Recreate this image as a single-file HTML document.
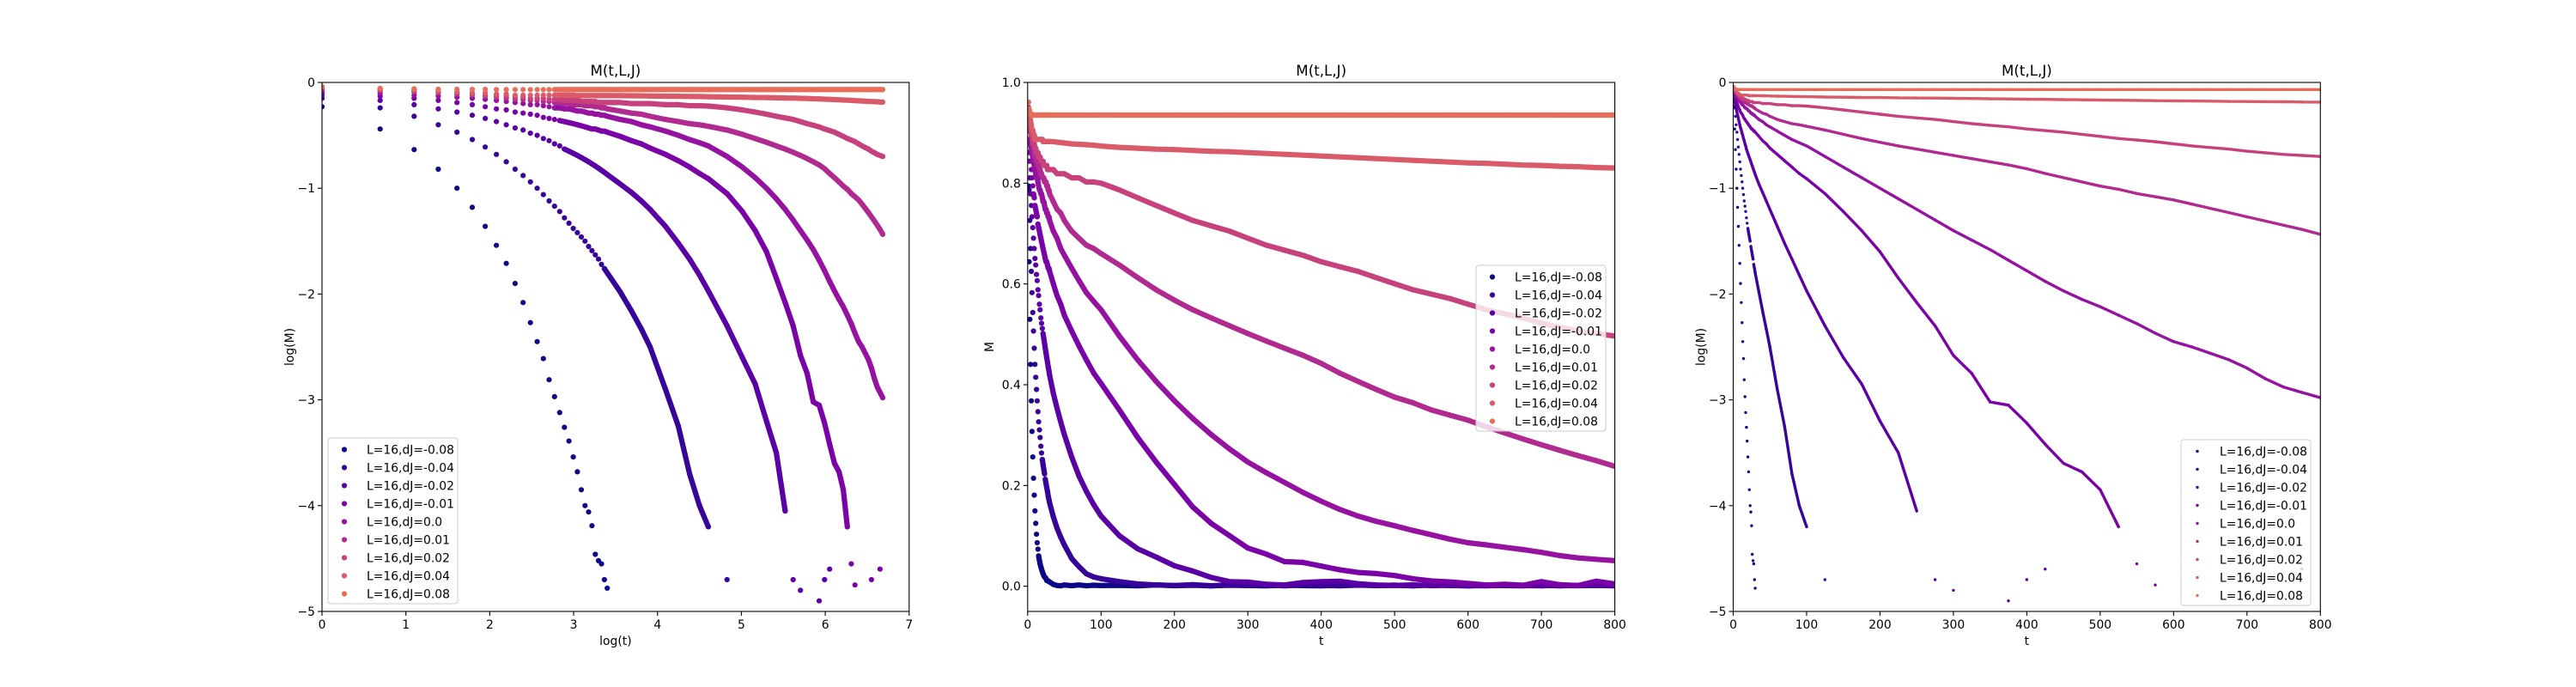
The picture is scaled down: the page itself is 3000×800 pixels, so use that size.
<!DOCTYPE html>
<html><head><meta charset="utf-8">
<style>
html,body{margin:0;padding:0;background:#fff;width:3000px;height:800px;overflow:hidden;}
svg{display:block;font-family:"DejaVu Sans","Liberation Sans",sans-serif;}
</style></head>
<body>
<svg id="fig" width="3000" height="800" viewBox="0 0 3000 800" xmlns="http://www.w3.org/2000/svg">
<rect x="0" y="0" width="3000" height="800" fill="#fff"/>
</svg>
<script>
// ---- data ----
const times = [1,2,3,4,5,6,7,8,9,10,11,12,13,14,15,16,17,18,19,20,21,22,23,24,25,26,27,28,29,30,
  35,40,45,50,60,70,80,90,100,
  125,150,175,200,225,250,275,300,325,350,375,400,425,450,475,500,525,550,575,600,625,650,675,700,725,750,775,800];
const seriesLabels = ["L=16,dJ=-0.08","L=16,dJ=-0.04","L=16,dJ=-0.02","L=16,dJ=-0.01","L=16,dJ=0.0","L=16,dJ=0.01","L=16,dJ=0.02","L=16,dJ=0.04","L=16,dJ=0.08"];
const logM_m008 = [-0.23,-0.44,-0.635,-0.82,-1.0,-1.18,-1.36,-1.54,-1.71,-1.9,-2.08,-2.27,-2.45,-2.61,-2.81,-2.97,-3.12,-3.26,-3.39,-3.54,-3.68,-3.85,-4.0,-4.06,-4.19,-4.46,-4.52,-4.55,-4.7,-4.78,
  -5.6,-6.5,-7,-6,-6.8,-6,-7,-6.2,-6.6,
  -6.3,-7,-5.9,-6.8,-6.2,-7.2,-6,-6.5,-6.9,-6.1,-6.6,-7,-6.3,-5.8,-6.7,-6.2,-7.1,-6,-6.4,-6.9,-6.2,-6.6,-7,-6.1,-6.5,-6.8,-6.3,-6.9];
const logM_m004 = [-0.15,-0.24,-0.32,-0.4,-0.47,-0.54,-0.61,-0.68,-0.75,-0.82,-0.88,-0.94,-1.0,-1.06,-1.12,-1.17,-1.22,-1.28,-1.33,-1.38,-1.42,-1.46,-1.5,-1.55,-1.59,-1.63,-1.67,-1.72,-1.76,-1.8,
  -1.98,-2.16,-2.33,-2.5,-2.9,-3.25,-3.7,-4.0,-4.2,
  -4.7,-5.4,-6,-6.5,-5.8,-7,-6.2,-6.6,-6,-6.9,-5.9,-6.4,-7,-6.1,-6.7,-6.2,-6.8,-6,-6.5,-7,-6.3,-5.9,-6.6,-6.1,-6.9,-6.4,-6.2,-6.7];
const logM_m002 = [-0.12,-0.17,-0.21,-0.25,-0.28,-0.31,-0.34,-0.37,-0.4,-0.43,-0.45,-0.48,-0.5,-0.53,-0.55,-0.58,-0.6,-0.63,-0.65,-0.67,-0.69,-0.71,-0.73,-0.75,-0.77,-0.79,-0.81,-0.83,-0.85,-0.87,
  -0.96,-1.04,-1.12,-1.2,-1.36,-1.52,-1.67,-1.82,-1.97,
  -2.3,-2.6,-2.85,-3.2,-3.5,-4.05,-4.7,-4.8,-5.5,-6,-4.9,-4.7,-4.6,-5.3,-6,-6.4,-5.9,-6.8,-6.2,-6.6,-7,-6.1,-6.5,-6.9,-6.2,-6.7,-6,-6.4];
const logM_m001 = [-0.1,-0.13,-0.15,-0.17,-0.19,-0.21,-0.23,-0.25,-0.26,-0.28,-0.29,-0.3,-0.31,-0.33,-0.34,-0.35,-0.36,-0.37,-0.38,-0.39,-0.4,-0.41,-0.42,-0.43,-0.44,-0.44,-0.45,-0.46,-0.46,-0.47,
  -0.51,-0.55,-0.58,-0.62,-0.68,-0.74,-0.8,-0.86,-0.91,
  -1.05,-1.22,-1.4,-1.6,-1.85,-2.08,-2.3,-2.58,-2.75,-3.02,-3.05,-3.22,-3.42,-3.6,-3.68,-3.85,-4.2,-4.55,-4.75,-5.2,-6,-5.5,-6.2,-4.7,-5.8,-6.5,-4.6,-5.4];
const logM_000 = [-0.08,-0.1,-0.12,-0.13,-0.14,-0.15,-0.16,-0.17,-0.18,-0.19,-0.2,-0.21,-0.21,-0.22,-0.23,-0.24,-0.24,-0.25,-0.25,-0.26,-0.27,-0.27,-0.28,-0.29,-0.29,-0.3,-0.3,-0.31,-0.31,-0.32,
  -0.35,-0.37,-0.4,-0.42,-0.46,-0.5,-0.54,-0.57,-0.6,
  -0.7,-0.8,-0.9,-1.0,-1.1,-1.2,-1.3,-1.4,-1.49,-1.58,-1.68,-1.78,-1.88,-1.97,-2.05,-2.12,-2.2,-2.28,-2.37,-2.45,-2.5,-2.56,-2.62,-2.7,-2.8,-2.88,-2.93,-2.98];
const logM_p001 = [-0.06,-0.08,-0.09,-0.1,-0.11,-0.12,-0.13,-0.14,-0.15,-0.16,-0.16,-0.17,-0.17,-0.18,-0.18,-0.19,-0.19,-0.2,-0.2,-0.21,-0.21,-0.21,-0.22,-0.22,-0.22,-0.23,-0.23,-0.24,-0.24,-0.25,
  -0.27,-0.29,-0.3,-0.32,-0.35,-0.37,-0.39,-0.4,-0.415,
  -0.45,-0.49,-0.53,-0.566,-0.6,-0.63,-0.66,-0.69,-0.72,-0.75,-0.78,-0.816,-0.86,-0.9,-0.94,-0.98,-1.01,-1.05,-1.08,-1.11,-1.15,-1.19,-1.23,-1.27,-1.31,-1.35,-1.39,-1.435];
const logM_p002 = [-0.05,-0.07,-0.08,-0.09,-0.1,-0.11,-0.12,-0.13,-0.13,-0.14,-0.14,-0.15,-0.15,-0.15,-0.16,-0.16,-0.16,-0.17,-0.17,-0.17,-0.17,-0.18,-0.18,-0.18,-0.18,-0.18,-0.19,-0.19,-0.19,-0.19,
  -0.19,-0.2,-0.2,-0.2,-0.21,-0.21,-0.22,-0.22,-0.223,
  -0.24,-0.26,-0.28,-0.3,-0.32,-0.335,-0.35,-0.37,-0.39,-0.405,-0.42,-0.44,-0.455,-0.47,-0.49,-0.51,-0.53,-0.545,-0.56,-0.58,-0.6,-0.615,-0.63,-0.65,-0.665,-0.68,-0.69,-0.7];
const logM_p004 = [-0.04,-0.06,-0.07,-0.08,-0.09,-0.1,-0.1,-0.11,-0.11,-0.12,-0.12,-0.12,-0.12,-0.12,-0.12,-0.12,-0.12,-0.12,-0.12,-0.12,-0.125,-0.125,-0.125,-0.125,-0.125,-0.125,-0.125,-0.125,-0.125,-0.125,
  -0.125,-0.126,-0.127,-0.128,-0.13,-0.131,-0.132,-0.133,-0.135,
  -0.138,-0.14,-0.142,-0.143,-0.145,-0.147,-0.148,-0.15,-0.152,-0.154,-0.156,-0.158,-0.16,-0.162,-0.164,-0.166,-0.168,-0.17,-0.172,-0.174,-0.175,-0.177,-0.179,-0.18,-0.182,-0.183,-0.185,-0.186];
const logM_p008 = [-0.04,-0.055,-0.06,-0.065,-0.065,-0.066,-0.066,-0.067,-0.067,-0.067,-0.067,-0.067,-0.067,-0.067,-0.067,-0.067,-0.067,-0.067,-0.067,-0.067,-0.067,-0.067,-0.067,-0.067,-0.067,-0.067,-0.067,-0.067,-0.067,-0.067,
  -0.067,-0.067,-0.067,-0.067,-0.067,-0.067,-0.067,-0.067,-0.067,
  -0.067,-0.067,-0.067,-0.067,-0.067,-0.067,-0.067,-0.067,-0.067,-0.067,-0.067,-0.067,-0.067,-0.067,-0.067,-0.067,-0.067,-0.067,-0.067,-0.067,-0.067,-0.067,-0.067,-0.067,-0.067,-0.067,-0.067,-0.067];
const allSeries = [logM_m008,logM_m004,logM_m002,logM_m001,logM_000,logM_p001,logM_p002,logM_p004,logM_p008];
const xTicks1 = [0,1,2,3,4,5,6,7];
const yTicksLog = [0,-1,-2,-3,-4,-5];
const xTicksT = [0,100,200,300,400,500,600,700,800];
const yTicksM = [0.0,0.2,0.4,0.6,0.8,1.0];
const yTickLabelsM = ["0.0","0.2","0.4","0.6","0.8","1.0"];

// ---- style ----
const colors = ["#0d0887","#370499","#5a01a5","#7a03a8","#9613a1","#b12a90","#c7427c","#d95b69","#e86d59"];
const NS = "http://www.w3.org/2000/svg";
const svg = document.getElementById("fig");
function mk(tag, attrs, parent){const e=document.createElementNS(NS,tag);for(const k in attrs)e.setAttribute(k,attrs[k]);(parent||svg).appendChild(e);return e;}

const panels = [
  {key:"loglog", x0:375, xmin:0, xmax:7, ymin:-5, ymax:0, xT:xTicks1, xL:xTicks1.map(String), yT:yTicksLog, yL:yTicksLog.map(v=>v<0?"\u2212"+(-v):String(v)), xlab:"log(t)", ylab:"log(M)", r:3.1,
    fx:t=>Math.log(t), fy:l=>l, legend:{x:382,y:510}},
  {key:"linear", x0:1196.8, xmin:0, xmax:800, ymin:-0.05, ymax:1.0, xT:xTicksT, xL:xTicksT.map(String), yT:yTicksM, yL:yTickLabelsM, xlab:"t", ylab:"M", r:3.1,
    fx:t=>t, fy:l=>Math.exp(l), legend:{x:1719,y:309}},
  {key:"semilog", x0:2018.5, xmin:0, xmax:800, ymin:-5, ymax:0, xT:xTicksT, xL:xTicksT.map(String), yT:yTicksLog, yL:yTicksLog.map(v=>v<0?"\u2212"+(-v):String(v)), xlab:"t", ylab:"log(M)", r:1.7,
    fx:t=>t, fy:l=>l, legend:{x:2540,y:512}}
];
const W=683.8, Y0=96, Y1=712;

panels.forEach((p,pi)=>{
  const g = mk("g",{});
  
  
  const sx = v => p.x0 + (v-p.xmin)/(p.xmax-p.xmin)*W;
  const sy = v => Y1 - (v-p.ymin)/(p.ymax-p.ymin)*(Y1-Y0);
  const cp = mk("clipPath",{id:"clip"+pi}, g);
  mk("rect",{x:p.x0,y:Y0,width:W,height:Y1-Y0},cp);
  const plot = mk("g",{"clip-path":"url(#clip"+pi+")"}, g);
  
  
  allSeries.forEach((arr,si)=>{
    const sg = mk("g",{fill:colors[si],stroke:colors[si]}, plot);
    
    
    const pts = [];
    times.forEach((t,i)=>{
      if(arr[i]===undefined) return;
      const yv = p.fy(arr[i]);
      if(yv < p.ymin - 0.3) return;
      pts.push({t, x:sx(p.fx(t)), y:sy(yv), l:arr[i]});
    });
    let d = "";
    for(let i=0;i<pts.length-1;i++){
      const a=pts[i], b=pts[i+1];
      const len=Math.hypot(b.x-a.x,b.y-a.y);
      const ok = len/(b.t-a.t) < 6 && (p.key==="linear" || (a.l>-4.4 && b.l>-4.4));
      if(ok) d += "M"+a.x.toFixed(1)+" "+a.y.toFixed(1)+"L"+b.x.toFixed(1)+" "+b.y.toFixed(1);
    }
    if(d){ const pl = mk("path",{d:d,fill:"none","stroke-width":p.r*2,"stroke-linecap":"round"}, sg);
      
       }
    pts.forEach(q=>{
      const c = mk("circle",{cx:q.x.toFixed(1),cy:q.y.toFixed(1),r:p.r,stroke:"none"}, sg);
      
      
    });
  });
  const fr = mk("rect",{x:p.x0,y:Y0,width:W,height:Y1-Y0,fill:"none",stroke:"#000","stroke-width":1.1}, g);
  
  
  p.xT.forEach((v,i)=>{
    const x=sx(v);
    const tk = mk("line",{x1:x,y1:Y1,x2:x,y2:Y1+5,stroke:"#000","stroke-width":1.1}, g);
    
    
    const tx = mk("text",{x:x,y:Y1+20,"text-anchor":"middle","font-size":"13.9px",fill:"#000"}, g);
    tx.textContent = p.xL[i];
    
    
  });
  p.yT.forEach((v,i)=>{
    const y=sy(v);
    const tk = mk("line",{x1:p.x0-5,y1:y,x2:p.x0,y2:y,stroke:"#000","stroke-width":1.1}, g);
    
    
    const tx = mk("text",{x:p.x0-8,y:y+5,"text-anchor":"end","font-size":"13.9px",fill:"#000"}, g);
    tx.textContent = p.yL[i];
    
    
  });
  const tt = mk("text",{x:p.x0+W/2,y:88,"text-anchor":"middle","font-size":"16.7px",fill:"#000"}, g);
  tt.textContent = "M(t,L,J)";
  
  
  const xl = mk("text",{x:p.x0+W/2,y:751,"text-anchor":"middle","font-size":"13.9px",fill:"#000"}, g);
  xl.textContent = p.xlab;
  
  
  const yx = p.x0 - (p.key==="linear"?40:33);
  const yl = mk("text",{x:yx,y:(Y0+Y1)/2,"text-anchor":"middle","font-size":"13.9px",fill:"#000",transform:"rotate(-90 "+yx+" "+((Y0+Y1)/2)+")"}, g);
  yl.textContent = p.ylab;
  
  
  const lg = mk("g",{}, g);
  
  
  const lb = mk("rect",{x:p.legend.x,y:p.legend.y,width:151,height:193,rx:3,fill:"#fff","fill-opacity":0.8,stroke:"#cccccc","stroke-width":1}, lg);
  
  
  seriesLabels.forEach((lab,si)=>{
    const cy = p.legend.y + 13.5 + si*21;
    const m = mk("circle",{cx:p.legend.x+19,cy:cy,r:p.r,fill:colors[si]}, lg);
    
    
    const tx = mk("text",{x:p.legend.x+45,y:cy+5,"font-size":"13.9px",fill:"#000"}, lg);
    tx.textContent = lab;
    
    
  });
});
</script>
</body></html>
